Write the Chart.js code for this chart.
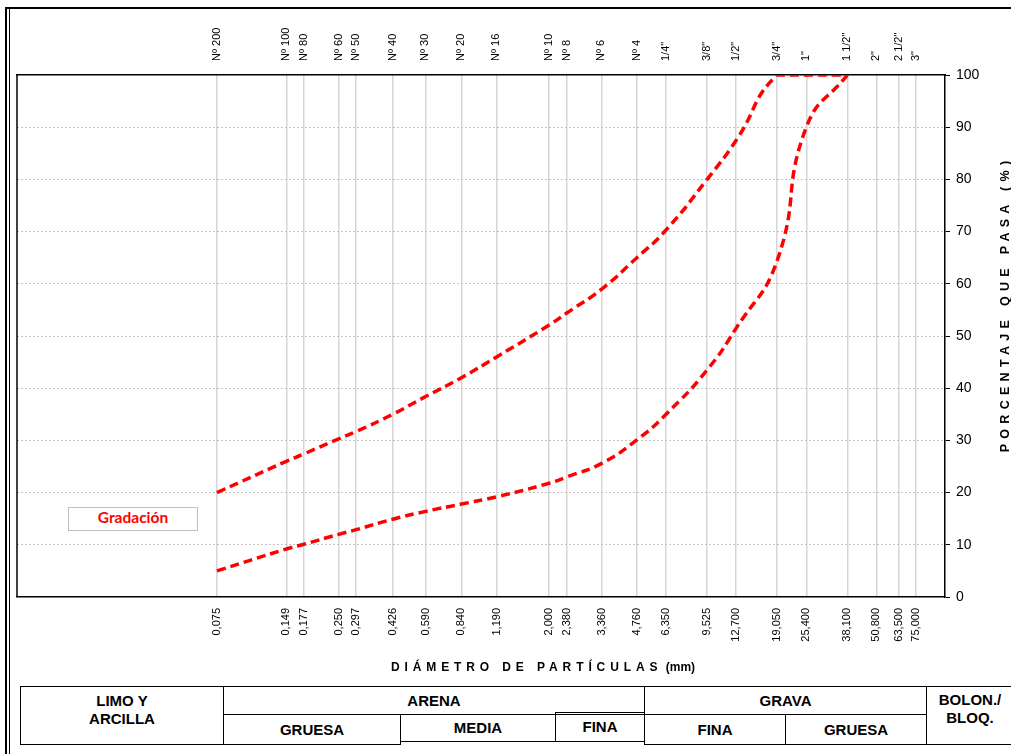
<!DOCTYPE html>
<html>
<head>
<meta charset="utf-8">
<script src="https://cdn.jsdelivr.net/npm/chart.js@4/dist/chart.umd.min.js"></script>
<style>
  body { margin: 0; background: #fff; font-family: "Liberation Sans", Arial, sans-serif; }
  #page { position: relative; width: 1011px; height: 754px; overflow: hidden; background: #fff; }
  #chartBox { position: absolute; left: 0; top: 0; width: 1011px; height: 680px; }
  .frameTop { position: absolute; left: 5px; top: 7px; width: 1010px; height: 2px; background: #000; }
  .frameL1 { position: absolute; left: 5px; top: 7px; width: 2px; height: 760px; background: #000; }
  .frameL2 { position: absolute; left: 9px; top: 9px; width: 1px; height: 760px; background: #000; }
  #xTitle { position: absolute; left: 0; width: 1086px; top: 660px; text-align: center; font: bold 12px "Liberation Sans", Arial, sans-serif; color: #000; }
  #xTitle .sp { letter-spacing: 4.9px; }
  #yTitle { position: absolute; left: 850px; top: 297px; width: 310px; text-align: center; transform: rotate(-90deg);
            font: bold 12.5px "Liberation Sans", Arial, sans-serif; letter-spacing: 5.3px; color: #000; white-space: nowrap; }
  #legendBox { position: absolute; left: 68px; top: 507px; width: 128px; height: 22px; border: 1.5px solid #bfbfbf; background: #fff;
               text-align: center; line-height: 22px; font: bold 15.5px Lato, "Open Sans", sans-serif; color: #ff0000; }
  .cell { position: absolute; box-sizing: border-box; border: 1.5px solid #000; display: flex; align-items: center; justify-content: center;
          text-align: center; font: bold 15px "Liberation Sans Narrow", "Liberation Sans", Arial, sans-serif; line-height: 18px; color: #000; }
</style>
</head>
<body>
<div id="page">
  <div id="chartBox"><canvas id="gradChart" width="1011" height="680"></canvas></div>
  <div class="frameTop"></div>
  <div class="frameL1"></div>
  <div class="frameL2"></div>
  <div id="xTitle"><span class="sp">DIÁMETRO DE PARTÍCULAS</span> (mm)</div>
  <div id="yTitle">PORCENTAJE QUE PASA (%)</div>
  <div id="legendBox">Gradación</div>

  <div class="cell" style="left:20px;top:686px;width:204px;height:59px;padding-bottom:12px;">LIMO Y<br>ARCILLA</div>
  <div class="cell" style="left:223px;top:686px;width:422px;height:29px;">ARENA</div>
  <div class="cell" style="left:644px;top:686px;width:283px;height:29px;">GRAVA</div>
  <div class="cell" style="left:926px;top:686px;width:100px;height:59px;padding-right:12px;padding-bottom:14px;">BOLON./<br>BLOQ.</div>
  <div class="cell" style="left:223px;top:714px;width:178px;height:31px;">GRUESA</div>
  <div class="cell" style="left:400px;top:714px;width:156px;height:28px;">MEDIA</div>
  <div class="cell" style="left:555px;top:712px;width:90px;height:30px;">FINA</div>
  <div class="cell" style="left:644px;top:714px;width:142px;height:31px;">FINA</div>
  <div class="cell" style="left:785px;top:714px;width:142px;height:31px;">GRUESA</div>
</div>

<script>
// tamices (abertura en mm) y su designación
const sieveMm = [0.075, 0.149, 0.177, 0.250, 0.297, 0.426, 0.590, 0.840, 1.190, 2.000, 2.380, 3.360, 4.760,
                 6.350, 9.525, 12.700, 19.050, 25.400, 38.100, 50.800, 63.500, 75.000];
const sieveNames = ["Nº 200", "Nº 100", "Nº 80", "Nº 60", "Nº 50", "Nº 40", "Nº 30", "Nº 20", "Nº 16", "Nº 10", "Nº 8",
                    "Nº 6", "Nº 4", "1/4\"", "3/8\"", "1/2\"", "3/4\"", "1\"", "1 1/2\"", "2\"", "2 1/2\"", "3\""];
const mmLabels = ["0,075", "0,149", "0,177", "0,250", "0,297", "0,426", "0,590", "0,840", "1,190", "2,000", "2,380",
                  "3,360", "4,760", "6,350", "9,525", "12,700", "19,050", "25,400", "38,100", "50,800", "63,500", "75,000"];

// % que pasa - límites de la gradación
const upperPass = [20, 26, 27.4, 30.3, 31.7, 35, 38.4, 42, 46, 52.1, 54.4, 59, 65, 70.3, 80, 87.5, 100, 100, 100];
const lowerPass = [5, 9.2, 10.1, 12, 12.9, 14.9, 16.4, 17.8, 19.2, 21.8, 23, 25.6, 30.1, 35, 43.5, 51.5, 64.5, 90, 100];
const yTicks = [0, 10, 20, 30, 40, 50, 60, 70, 80, 90, 100];

const toPoints = (vals) => vals.map((y, i) => ({ x: sieveMm[i], y: y }));

const leftBorder = {
  id: "leftBorder",
  beforeDatasetsDraw(chart) {
    const { ctx, chartArea } = chart;
    ctx.save();
    ctx.strokeStyle = "#000";
    ctx.lineWidth = 1.5;
    ctx.beginPath();
    ctx.moveTo(chartArea.left, chartArea.top);
    ctx.lineTo(chartArea.left, chartArea.bottom);
    ctx.stroke();
    ctx.restore();
  }
};

const lineStyle = {
  borderColor: "#ff0000",
  borderWidth: 3.5,
  borderDash: [9, 5],
  pointRadius: 0,
  fill: false,
  tension: 0.5
};

new Chart(document.getElementById("gradChart").getContext("2d"), {
  type: "line",
  data: {
    datasets: [
      Object.assign({ label: "Gradación", data: toPoints(upperPass) }, lineStyle),
      Object.assign({ label: "Gradación", data: toPoints(lowerPass) }, lineStyle)
    ]
  },
  options: {
    responsive: false,
    animation: false,
    layout: { padding: { left: 17, right: 0, top: 0, bottom: 0 } },
    plugins: { legend: { display: false }, tooltip: { enabled: false } },
    scales: {
      x: {
        type: "logarithmic",
        position: "bottom",
        min: 0.0104,
        max: 100,
        afterBuildTicks: (s) => { s.ticks = sieveMm.map(v => ({ value: v })); },
        afterFit: (s) => { s.height = 83; },
        ticks: {
          autoSkip: false, minRotation: 90, maxRotation: 90, padding: 11,
          color: "#000", font: { family: "'Liberation Sans', Arial", size: 11 },
          callback: (v, i) => mmLabels[i]
        },
        grid: { color: "#d6d6d6", lineWidth: 1.5, drawTicks: false },
        border: { color: "#000", width: 1.5 }
      },
      x2: {
        type: "logarithmic",
        position: "top",
        min: 0.0104,
        max: 100,
        afterBuildTicks: (s) => { s.ticks = sieveMm.map(v => ({ value: v })); },
        afterFit: (s) => { s.height = 75; },
        ticks: {
          autoSkip: false, minRotation: 90, maxRotation: 90, padding: 6, labelOffset: 13,
          color: "#000", font: { family: "'Liberation Sans', Arial", size: 11 },
          callback: (v, i) => sieveNames[i]
        },
        grid: { display: false },
        border: { color: "#000", width: 1.5 }
      },
      y: {
        position: "right",
        min: 0,
        max: 100,
        afterBuildTicks: (s) => { s.ticks = yTicks.map(v => ({ value: v })); },
        afterFit: (s) => { s.width = 66; },
        ticks: { color: "#000", padding: 6, font: { family: "'Liberation Sans', Arial", size: 14 } },
        grid: {
          color: (c) => (c.tick && (c.tick.value === 0 || c.tick.value === 100)) ? "rgba(0,0,0,0)" : "#c4c4c4",
          lineWidth: 1, tickColor: "#000", tickLength: 5, tickWidth: 1, tickBorderDash: []
        },
        border: { color: "#000", width: 1.5, dash: [2, 2] }
      }
    }
  },
  plugins: [leftBorder]
});
</script>
</body>
</html>
